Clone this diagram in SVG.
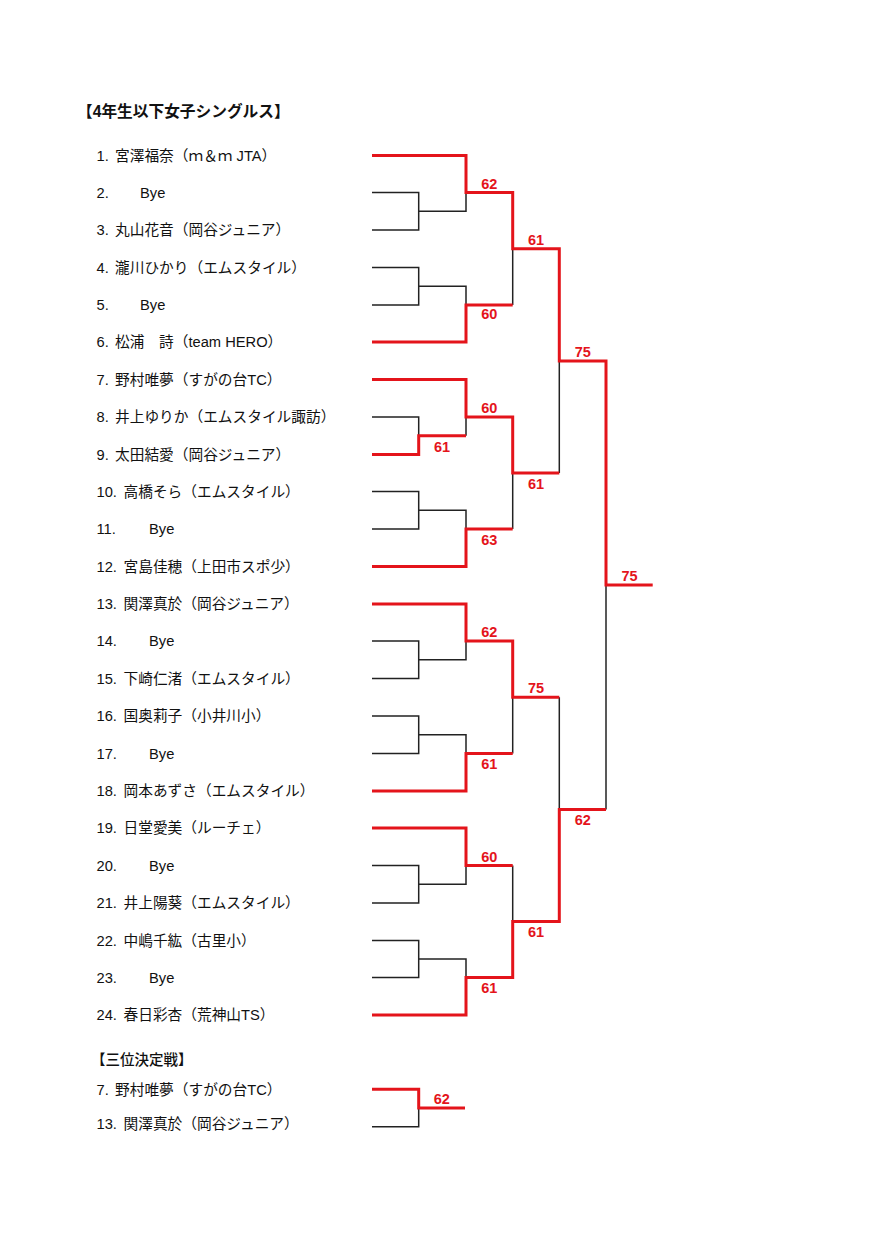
<svg xmlns="http://www.w3.org/2000/svg" width="890" height="1259" viewBox="0 0 890 1259">
<style>
.t{font-family:"Liberation Sans","Noto Sans CJK JP",sans-serif;font-size:14.7px;fill:#111}
.h{font-family:"Liberation Sans","Noto Sans CJK JP",sans-serif;font-size:15.7px;font-weight:bold;fill:#111}
.h2{font-family:"Liberation Sans","Noto Sans CJK JP",sans-serif;font-size:14.5px;font-weight:500;fill:#111}
.s{font-family:"Liberation Sans","Noto Sans CJK JP",sans-serif;font-size:14.5px;font-weight:bold;fill:#e4141b;text-anchor:middle}
.k{fill:none;stroke:#222;stroke-width:1.5}
.r{fill:none;stroke:#e4141b;stroke-width:3;stroke-linejoin:miter}
</style>
<rect width="890" height="1259" fill="#fff"/>
<g id="titles">
<text class="h" x="77" y="116.5">【4年生以下女子シングルス】</text>
<text class="h2" x="91" y="1065">【三位決定戦】</text>
</g>
<g id="players">
<g id="p1"><text class="t" x="96.5" y="160.5">1.</text><text class="t" x="115" y="160.5">宮澤福奈（ｍ＆ｍ JTA）</text></g>
<g id="p2"><text class="t" x="96.5" y="197.5">2.</text><text class="t" x="140" y="197.5">Bye</text></g>
<g id="p3"><text class="t" x="96.5" y="235">3.</text><text class="t" x="115" y="235">丸山花音（岡谷ジュニア）</text></g>
<g id="p4"><text class="t" x="96.5" y="272.5">4.</text><text class="t" x="115" y="272.5">瀧川ひかり（エムスタイル）</text></g>
<g id="p5"><text class="t" x="96.5" y="310">5.</text><text class="t" x="140" y="310">Bye</text></g>
<g id="p6"><text class="t" x="96.5" y="347">6.</text><text class="t" x="115" y="347">松浦　詩（team HERO）</text></g>
<g id="p7"><text class="t" x="96.5" y="384.5">7.</text><text class="t" x="115" y="384.5">野村唯夢（すがの台TC）</text></g>
<g id="p8"><text class="t" x="96.5" y="422">8.</text><text class="t" x="115" y="422">井上ゆりか（エムスタイル諏訪）</text></g>
<g id="p9"><text class="t" x="96.5" y="459.5">9.</text><text class="t" x="115" y="459.5">太田結愛（岡谷ジュニア）</text></g>
<g id="p10"><text class="t" x="96.5" y="496.5">10.</text><text class="t" x="123.5" y="496.5">高橋そら（エムスタイル）</text></g>
<g id="p11"><text class="t" x="96.5" y="534">11.</text><text class="t" x="149" y="534">Bye</text></g>
<g id="p12"><text class="t" x="96.5" y="571.5">12.</text><text class="t" x="123.5" y="571.5">宮島佳穂（上田市スポ少）</text></g>
<g id="p13"><text class="t" x="96.5" y="609">13.</text><text class="t" x="123.5" y="609">関澤真於（岡谷ジュニア）</text></g>
<g id="p14"><text class="t" x="96.5" y="646">14.</text><text class="t" x="149" y="646">Bye</text></g>
<g id="p15"><text class="t" x="96.5" y="683.5">15.</text><text class="t" x="123.5" y="683.5">下崎仁渚（エムスタイル）</text></g>
<g id="p16"><text class="t" x="96.5" y="721">16.</text><text class="t" x="123.5" y="721">国奥莉子（小井川小）</text></g>
<g id="p17"><text class="t" x="96.5" y="758.5">17.</text><text class="t" x="149" y="758.5">Bye</text></g>
<g id="p18"><text class="t" x="96.5" y="796">18.</text><text class="t" x="123.5" y="796">岡本あずさ（エムスタイル）</text></g>
<g id="p19"><text class="t" x="96.5" y="833">19.</text><text class="t" x="123.5" y="833">日堂愛美（ルーチェ）</text></g>
<g id="p20"><text class="t" x="96.5" y="870.5">20.</text><text class="t" x="149" y="870.5">Bye</text></g>
<g id="p21"><text class="t" x="96.5" y="908">21.</text><text class="t" x="123.5" y="908">井上陽葵（エムスタイル）</text></g>
<g id="p22"><text class="t" x="96.5" y="945.5">22.</text><text class="t" x="123.5" y="945.5">中嶋千紘（古里小）</text></g>
<g id="p23"><text class="t" x="96.5" y="982.5">23.</text><text class="t" x="149" y="982.5">Bye</text></g>
<g id="p24"><text class="t" x="96.5" y="1020">24.</text><text class="t" x="123.5" y="1020">春日彩杏（荒神山TS）</text></g>
<g id="tp1"><text class="t" x="96.5" y="1095">7.</text><text class="t" x="115" y="1095">野村唯夢（すがの台TC）</text></g>
<g id="tp2"><text class="t" x="96.5" y="1129">13.</text><text class="t" x="123.5" y="1129">関澤真於（岡谷ジュニア）</text></g>
</g>
<g id="connectors">
<path class="k" d="M372,192.5H418.7V230H372M418.7,211.25H466V192.5"/>
<path class="k" d="M372,267.5H418.7V305H372M418.7,286.25H466V305"/>
<path class="k" d="M512.7,248.75V305"/>
<path class="k" d="M372,417H418.7V435.75M466,417V435.75"/>
<path class="k" d="M372,491.5H418.7V529H372M418.7,510.25H466V529"/>
<path class="k" d="M512.7,473V529"/>
<path class="k" d="M559.3,360.9V473"/>
<path class="k" d="M372,641H418.7V678.5H372M418.7,659.75H466V641"/>
<path class="k" d="M372,716H418.7V753.5H372M418.7,734.75H466V753.5"/>
<path class="k" d="M512.7,697.25V753.5"/>
<path class="k" d="M372,865.5H418.7V903H372M418.7,884.25H466V865.5"/>
<path class="k" d="M372,940.5H418.7V977.5H372M418.7,959H466V977.5"/>
<path class="k" d="M512.7,865.5V921.5"/>
<path class="k" d="M559.3,697.25V809.4"/>
<path class="k" d="M606,585.1V809.4"/>
<path class="k" d="M372,1126.7H418.7V1108"/>
<path class="r" d="M372,155.5H466V192.5H512.7V248.75H559.3V360.9H606V585.1H652.7"/>
<path class="r" d="M372,342H466V305H512.7"/>
<path class="r" d="M372,379.5H466V417H512.7V473H559.3"/>
<path class="r" d="M372,454.5H418.7V435.75H466"/>
<path class="r" d="M372,566.5H466V529H512.7"/>
<path class="r" d="M372,604H466V641H512.7V697.25H559.3"/>
<path class="r" d="M372,791H466V753.5H512.7"/>
<path class="r" d="M372,828H466V865.5H512.7"/>
<path class="r" d="M372,1015H466V977.5H512.7V921.5H559.3V809.4H606"/>
<path class="r" d="M372,1089.3H418.7V1108H465"/>
</g>
<g id="scores">
<text class="s" x="489.3" y="188.5">62</text>
<text class="s" x="489.3" y="319">60</text>
<text class="s" x="536" y="244.5">61</text>
<text class="s" x="489.3" y="413">60</text>
<text class="s" x="442" y="451.5">61</text>
<text class="s" x="489.3" y="544.5">63</text>
<text class="s" x="536" y="488.5">61</text>
<text class="s" x="582.7" y="356.5">75</text>
<text class="s" x="629.5" y="581">75</text>
<text class="s" x="489.3" y="637">62</text>
<text class="s" x="489.3" y="769">61</text>
<text class="s" x="536" y="693">75</text>
<text class="s" x="489.3" y="861.5">60</text>
<text class="s" x="489.3" y="993">61</text>
<text class="s" x="536" y="937">61</text>
<text class="s" x="582.7" y="825">62</text>
<text class="s" x="441.7" y="1104">62</text>
</g>
</svg>
